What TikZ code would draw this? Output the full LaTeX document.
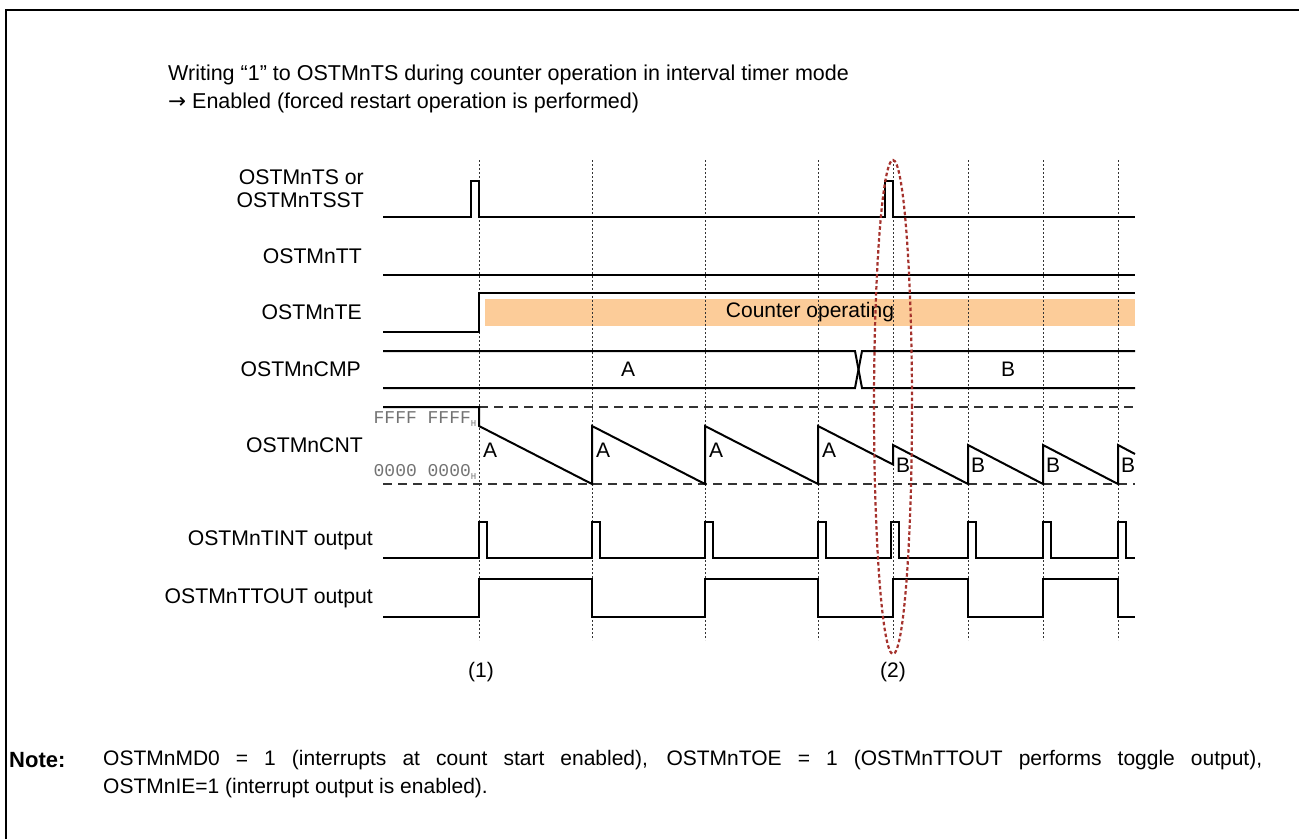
\documentclass[tikz,border=0pt]{standalone}
\usepackage{fontspec}
\setmainfont{Liberation Sans}
\newfontfamily\monofont{Liberation Mono}
\newfontfamily\symfont{DejaVu Sans}
\definecolor{peach}{RGB}{252,204,153}
\definecolor{ovalred}{RGB}{165,50,45}
\begin{document}
\begin{tikzpicture}[x=1pt,y=-1pt,
  sig/.style={line width=2pt, line join=miter},
  grid/.style={line width=0.8pt, dash pattern=on 2pt off 2pt, black!80},
  lvl/.style={line width=1.3pt, dash pattern=on 9pt off 6pt, black!80},
  lab/.style={font=\fontsize{21.2}{23}\selectfont, anchor=east, align=right, inner sep=0pt},
  txt/.style={font=\fontsize{21}{23}\selectfont, inner sep=0pt},
  ttl/.style={font=\fontsize{21.5}{23}\selectfont, inner sep=0pt, anchor=west},
  hex/.style={font=\monofont\fontsize{18}{20}\selectfont, text=black!55, anchor=east, inner sep=0pt},
  oval/.style={ovalred, line width=2.2pt, dash pattern=on 3.5pt off 2.5pt}]
\useasboundingbox (0,0) rectangle (1299,839);
% frame
\draw[line width=2pt] (6,839) -- (6,10) -- (1299,10);
% title
\node[ttl] (t1) at (168,75) {Writing “1” to OSTMnTS during counter operation in interval timer mode};
\node[ttl] (t2) at (168,103) {{\symfont →} Enabled (forced restart operation is performed)};
% labels
\node[lab] (lts) at (364,189) {OSTMnTS or\\OSTMnTSST};
\node[lab] (ltt) at (362,256) {OSTMnTT};
\node[lab] (lte) at (362,312) {OSTMnTE};
\node[lab] (lcmp) at (361,369) {OSTMnCMP};
\node[lab] (lcnt) at (363,445) {OSTMnCNT};
\node[lab] (lint) at (373,540) {OSTMnTINT output};
\node[lab] (lout) at (373,598) {OSTMnTTOUT output};
% counter operating bar
\fill[peach] (485,299) rectangle (1135,326);
\node[txt] (cop) at (810,312) {Counter operating};
% grid lines
\foreach \x in {479,592,705,818,893,968,1043,1118}
  \draw[grid] (\x,160) -- (\x,640);
% OSTMnTS
\draw[sig] (383,217) -- (471,217) -- (471,181) -- (479,181) -- (479,217) -- (885,217) -- (885,181) -- (893,181) -- (893,217) -- (1135,217);
% OSTMnTT
\draw[sig] (383,275) -- (1135,275);
% OSTMnTE
\draw[sig] (383,332) -- (479,332) -- (479,293) -- (1135,293);
% OSTMnCMP
\draw[sig] (383,351) -- (855,351) -- (862,388) -- (1135,388);
\draw[sig] (383,388) -- (855,388) -- (862,351) -- (1135,351);
\node[txt] (ca) at (628,369) {A};
\node[txt] (cb) at (1008,369) {B};
% OSTMnCNT
\draw[lvl] (479,407) -- (1135,407);
\draw[lvl] (383,484) -- (1135,484);
\draw[sig] (383,407) -- (479,407) -- (479,426) -- (592,484) -- (592,426) -- (705,484) -- (705,426) -- (818,484) -- (818,426) -- (893,464.5) -- (893,445) -- (968,484) -- (968,445) -- (1043,484) -- (1043,445) -- (1118,484) -- (1118,445) -- (1135,454);
\node[hex] (hf) at (477,419) {FFFF FFFF\textsubscript{\fontsize{9}{10}\selectfont H}};
\node[hex] (h0) at (477,472) {0000 0000\textsubscript{\fontsize{9}{10}\selectfont H}};
\foreach \x/\n in {490/1,603/2,716/3,829/4}
  \node[txt] (na\n) at (\x,450) {A};
\foreach \x/\n in {903/1,978/2,1053/3,1128/4}
  \node[txt] (nb\n) at (\x,465) {B};
% OSTMnTINT
\draw[sig] (383,558) -- (479,558) -- (479,522) -- (487,522) -- (487,558)
  -- (592,558) -- (592,522) -- (600,522) -- (600,558)
  -- (705,558) -- (705,522) -- (713,522) -- (713,558)
  -- (818,558) -- (818,522) -- (826,522) -- (826,558)
  -- (891,558) -- (891,522) -- (899,522) -- (899,558)
  -- (968,558) -- (968,522) -- (976,522) -- (976,558)
  -- (1043,558) -- (1043,522) -- (1051,522) -- (1051,558)
  -- (1118,558) -- (1118,522) -- (1126,522) -- (1126,558) -- (1135,558);
% OSTMnTTOUT
\draw[sig] (383,617) -- (479,617) -- (479,579) -- (592,579) -- (592,617) -- (705,617) -- (705,579) -- (818,579) -- (818,617) -- (893,617) -- (893,579) -- (968,579) -- (968,617) -- (1043,617) -- (1043,579) -- (1118,579) -- (1118,617) -- (1135,617);
% markers
\node[txt] (m1) at (481,672) {(1)};
\node[txt] (m2) at (893,672) {(2)};
% oval
\draw[oval] (893,407) ellipse [x radius=19pt, y radius=247pt];
% note
\node[txt, anchor=west, font=\fontsize{22}{23}\selectfont\bfseries] (nt) at (9,760) {Note:};
\node[txt, anchor=west] (n1) at (103,760) {\makebox[1159pt][s]{OSTMnMD0 = 1 (interrupts at count start enabled), OSTMnTOE = 1 (OSTMnTTOUT performs toggle output),}};
\node[txt, anchor=west] (n2) at (103,788) {OSTMnIE=1 (interrupt output is enabled).};
\end{tikzpicture}
\end{document}
